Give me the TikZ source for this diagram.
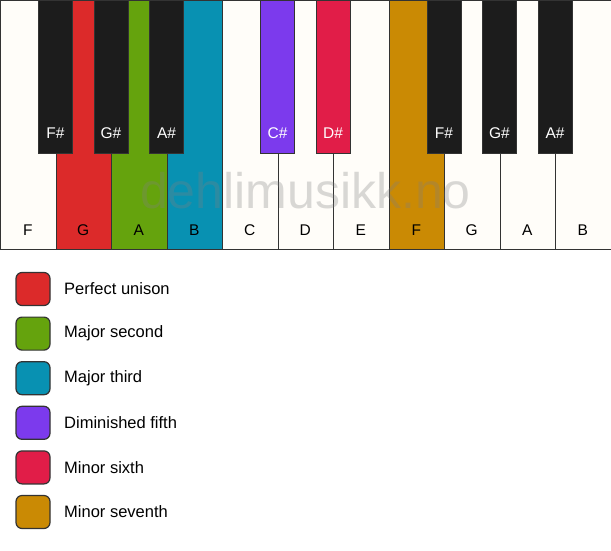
\documentclass[tikz,border=0pt]{standalone}
\usepackage{fontspec}
\setmainfont{Liberation Sans}
\definecolor{ivory}{HTML}{FFFDF9}
\definecolor{keyblack}{HTML}{1C1C1C}
\definecolor{edge}{HTML}{333333}
\definecolor{cRed}{HTML}{DC2A2A}
\definecolor{cLime}{HTML}{65A30D}
\definecolor{cCyan}{HTML}{0891B2}
\definecolor{cViolet}{HTML}{7C3AED}
\definecolor{cRose}{HTML}{E11D48}
\definecolor{cAmber}{HTML}{CA8A04}
\tikzset{
  whitekey/.style={draw=edge, line width=1.3pt, fill=ivory, minimum width=55.5pt, minimum height=249pt, inner sep=0pt, anchor=north west},
  blackkey/.style={draw=edge, line width=1pt, fill=keyblack, minimum width=34pt, minimum height=153pt, inner sep=0pt, anchor=north},
  wlabel/.style={font=\fontsize{15.5}{18}\selectfont, text=black},
  blabel/.style={font=\fontsize{15.5}{18}\selectfont, text=white},
  swatch/.style={draw=edge, line width=1.2pt, rounded corners=6pt, minimum width=34pt, minimum height=33pt, inner sep=0pt},
  legtext/.style={font=\fontsize{16.5}{19}\selectfont, anchor=west, inner sep=0pt}
}
\begin{document}
\begin{tikzpicture}[x=1pt,y=-1pt]
\useasboundingbox (0,0) rectangle (611,550);
\fill[white] (0,0) rectangle (611,550);
% white keys
\foreach \i/\n/\c in {0/F/ivory,1/G/cRed,2/A/cLime,3/B/cCyan,4/C/ivory,5/D/ivory,6/E/ivory,7/F/cAmber,8/G/ivory,9/A/ivory,10/B/ivory}{
  \node[whitekey, fill=\c] (w\i) at ({\i*55.5},0) {};
  \node[wlabel] (wl\i) at ({\i*55.5+27.75},230) {\n};
}
% watermark
\node[font=\fontsize{50}{54}\selectfont, text=gray, text opacity=0.3] (wm) at (305.5,191) {dehlimusikk.no};
% black keys
\foreach \i/\n/\c in {1/F\#/keyblack,2/G\#/keyblack,3/A\#/keyblack,5/C\#/cViolet,6/D\#/cRose,8/F\#/keyblack,9/G\#/keyblack,10/A\#/keyblack}{
  \node[blackkey, fill=\c] (b\i) at ({\i*55.5},0) {};
  \node[blabel] (bl\i) at ({\i*55.5},133) {\n};
}
% legend
\foreach \k/\c/\t in {0/cRed/Perfect unison,1/cLime/Major second,2/cCyan/Major third,3/cViolet/Diminished fifth,4/cRose/Minor sixth,5/cAmber/Minor seventh}{
  \node[swatch, fill=\c] (s\k) at (33,{289+\k*44.6}) {};
  \node[legtext] (t\k) at (64,{289+\k*44.6}) {\t};
}
\end{tikzpicture}
\end{document}
